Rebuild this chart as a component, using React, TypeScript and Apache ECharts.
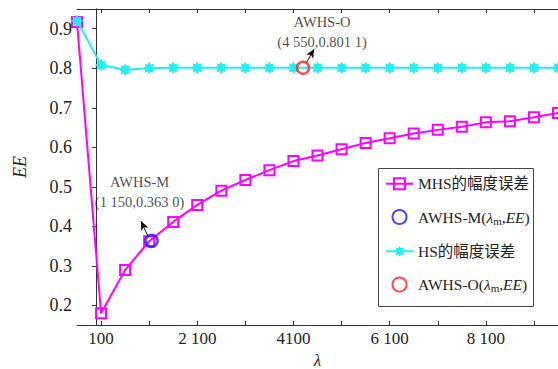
import React, { useEffect, useRef } from "react";
import * as echarts from "echarts";

const lambdas = [-400, 100, 600, 1100, 1600, 2100, 2600, 3100, 3600, 4100, 4600, 5100, 5600, 6100, 6600, 7100, 7600, 8100, 8600, 9100, 9600];
const mhsValues = [0.917, 0.18, 0.289, 0.362, 0.411, 0.454, 0.49, 0.517, 0.542, 0.565, 0.579, 0.595, 0.611, 0.623, 0.635, 0.644, 0.652, 0.663, 0.666, 0.676, 0.687];
const hsValues = [0.92, 0.808, 0.796, 0.8, 0.801, 0.801, 0.801, 0.801, 0.801, 0.801, 0.801, 0.801, 0.801, 0.801, 0.801, 0.801, 0.801, 0.801, 0.801, 0.801, 0.801];
const awhsM = [1150, 0.363];
const awhsO = [4300, 0.8011];
const xTicks = [100, 1100, 2100, 3100, 4100, 5100, 6100, 7100, 8100, 9100];
const xLabelValues = [100, 2100, 4100, 6100, 8100];
const xLabelTexts = ["100", "2 100", "4100", "6 100", "8 100"];
const yTicks = [0.2, 0.3, 0.4, 0.5, 0.6, 0.7, 0.8, 0.9];
const yLabelTexts = ["0.2", "0.3", "0.4", "0.5", "0.6", "0.7", "0.8", "0.9"];
const names = ["MHS的幅度误差", "AWHS-M(λm,EE)", "HS的幅度误差", "AWHS-O(λm,EE)"];

const SERIF = "'Liberation Serif', 'Times New Roman', 'Noto Sans CJK SC', serif";
const AXIS = "#333";

function starPath() {
  const pts: string[] = [];
  for (let i = 0; i < 16; i++) {
    const a = (i * Math.PI) / 8 - Math.PI / 2;
    const r = i % 2 === 0 ? 10 : 6;
    pts.push((i === 0 ? "M" : "L") + (10 + r * Math.cos(a)).toFixed(2) + " " + (10 + r * Math.sin(a)).toFixed(2));
  }
  return "path://" + pts.join(" ") + " Z";
}

export default function App() {
  const ref = useRef<HTMLDivElement>(null);
  useEffect(() => {
    document.body.style.margin = "0";
    const chart = echarts.init(ref.current!, null, { renderer: "svg" });
    const star = starPath();
    const xBase = {
      type: "value",
      min: -400,
      max: 9600,
      splitLine: { show: false },
      axisLine: { show: true, lineStyle: { color: AXIS, width: 1 } },
    };
    const yBase = {
      type: "value",
      min: 0.15,
      max: 0.95,
      splitLine: { show: false },
      axisLine: { show: true, lineStyle: { color: AXIS, width: 1 } },
    };
    const legendFmt = (name: string) => {
      if (name.startsWith("AWHS")) {
        const pre = name.startsWith("AWHS-M") ? "AWHS-M(" : "AWHS-O(";
        return `{n|${pre}}{l|λ}{s|m}{n|,}{i|EE}{n|)}`;
      }
      return `{n|${name}}`;
    };
    chart.setOption({
      animation: false,
      grid: { left: 77, top: 9, right: 0, bottom: 44, containLabel: false, outerBoundsMode: "none" },
      graphic: [
        {
          type: "rect",
          left: 378,
          top: 168,
          shape: { width: 155, height: 138 },
          style: { fill: "#fff", stroke: "#444", lineWidth: 1 },
          z: 50,
        },
      ],
      xAxis: [
        {
          ...xBase,
          position: "bottom",
          name: "λ",
          nameLocation: "middle",
          nameGap: 24,
          nameTextStyle: { fontFamily: SERIF, fontSize: 17, fontStyle: "italic", color: "#222" },
          axisTick: { show: true, inside: true, length: 4, customValues: xTicks, lineStyle: { color: AXIS } },
          axisLabel: {
            customValues: xLabelValues,
            margin: 5,
            fontFamily: SERIF,
            fontSize: 17,
            color: "#222",
            formatter: (v: number) => {
              const i = xLabelValues.indexOf(v);
              return i >= 0 ? xLabelTexts[i] : "";
            },
          },
        },
        {
          ...xBase,
          position: "top",
          axisTick: { show: true, inside: true, length: 4, customValues: xTicks, lineStyle: { color: AXIS } },
          axisLabel: { show: false },
        },
      ],
      yAxis: [
        {
          ...yBase,
          position: "left",
          name: "EE",
          nameLocation: "middle",
          nameGap: 48,
          nameTextStyle: { fontFamily: SERIF, fontSize: 18, fontStyle: "italic", color: "#222" },
          axisTick: { show: true, inside: false, length: 4, customValues: yTicks, lineStyle: { color: AXIS } },
          axisLabel: {
            customValues: yTicks,
            margin: 5,
            fontFamily: SERIF,
            fontSize: 18,
            color: "#222",
            formatter: (v: number) => {
              const i = yTicks.findIndex((t) => Math.abs(t - v) < 1e-6);
              return i >= 0 ? yLabelTexts[i] : "";
            },
          },
        },
        {
          ...yBase,
          position: "right",
          axisTick: { show: true, inside: true, length: 4, customValues: yTicks, lineStyle: { color: AXIS } },
          axisLabel: { show: false },
        },
      ],
      legend: {
        orient: "vertical",
        left: 378,
        top: 168,
        data: names,
        z: 60,
        backgroundColor: "rgba(0,0,0,0)",
        borderWidth: 0,
        padding: [8, 6, 8, 7],
        itemWidth: 27,
        itemHeight: 14,
        itemGap: 17.5,
        formatter: legendFmt,
        textStyle: {
          color: "#222",
          fontFamily: SERIF,
          fontSize: 15.5,
          rich: {
            n: { fontFamily: SERIF, fontSize: 15.5, lineHeight: 18, color: "#222" },
            l: { fontFamily: SERIF, fontSize: 15.5, lineHeight: 18, fontStyle: "italic", color: "#222" },
            s: { fontFamily: SERIF, fontSize: 11, lineHeight: 12, verticalAlign: "bottom", color: "#222" },
            i: { fontFamily: SERIF, fontSize: 15.5, lineHeight: 18, fontStyle: "italic", color: "#222" },
          },
        },
      },
      series: [
        {
          name: names[0],
          type: "line",
          data: lambdas.map((x, i) => [x, mhsValues[i]]),
          symbol: "rect",
          symbolSize: 10,
          showAllSymbol: true,
          lineStyle: { color: "#ff00ff", width: 2 },
          itemStyle: { color: "rgba(255,255,255,0)", borderColor: "#ff00ff", borderWidth: 2 },
          z: 2,
        },
        {
          name: names[1],
          type: "scatter",
          data: [awhsM],
          symbol: "circle",
          symbolSize: 12,
          itemStyle: { color: "rgba(255,255,255,0)", borderColor: "#1a1aff", borderWidth: 2.5 },
          label: {
            show: true,
            position: "top",
            distance: 22,
            offset: [-12, 0],
            formatter: "AWHS-M\n(1 150,0.363 0)",
            fontFamily: SERIF,
            fontSize: 14.5,
            lineHeight: 20,
            color: "#1a1a1a",
            align: "center",
          },
          markLine: {
            silent: true,
            symbol: ["none", "arrow"],
            symbolSize: [6, 9],
            label: { show: false },
            lineStyle: { color: "#111", width: 1, type: "solid" },
            data: [[{ coord: [1070, 0.376] }, { coord: [930, 0.413] }]],
          },
          z: 3,
        },
        {
          name: names[2],
          type: "line",
          data: lambdas.map((x, i) => [x, hsValues[i]]),
          symbol: star,
          symbolSize: 13,
          showAllSymbol: true,
          lineStyle: { color: "#22f0f0", width: 2 },
          itemStyle: { color: "#22f0f0" },
          z: 4,
        },
        {
          name: names[3],
          type: "scatter",
          data: [awhsO],
          symbol: "circle",
          symbolSize: 12,
          itemStyle: { color: "rgba(255,255,255,0)", borderColor: "#ff2020", borderWidth: 2.5 },
          label: {
            show: true,
            position: "top",
            distance: 9,
            offset: [19, 0],
            formatter: "AWHS-O\n(4 550,0.801 1)",
            fontFamily: SERIF,
            fontSize: 14.5,
            lineHeight: 20,
            color: "#1a1a1a",
            align: "center",
          },
          markLine: {
            silent: true,
            symbol: ["none", "arrow"],
            symbolSize: [6, 9],
            label: { show: false },
            lineStyle: { color: "#111", width: 1, type: "solid" },
            data: [[{ coord: [4360, 0.812] }, { coord: [4530, 0.849] }]],
          },
          z: 5,
        },
      ],
    });
    return () => chart.dispose();
  }, []);
  return <div ref={ref} style={{ width: 558, height: 369 }} />;
}
